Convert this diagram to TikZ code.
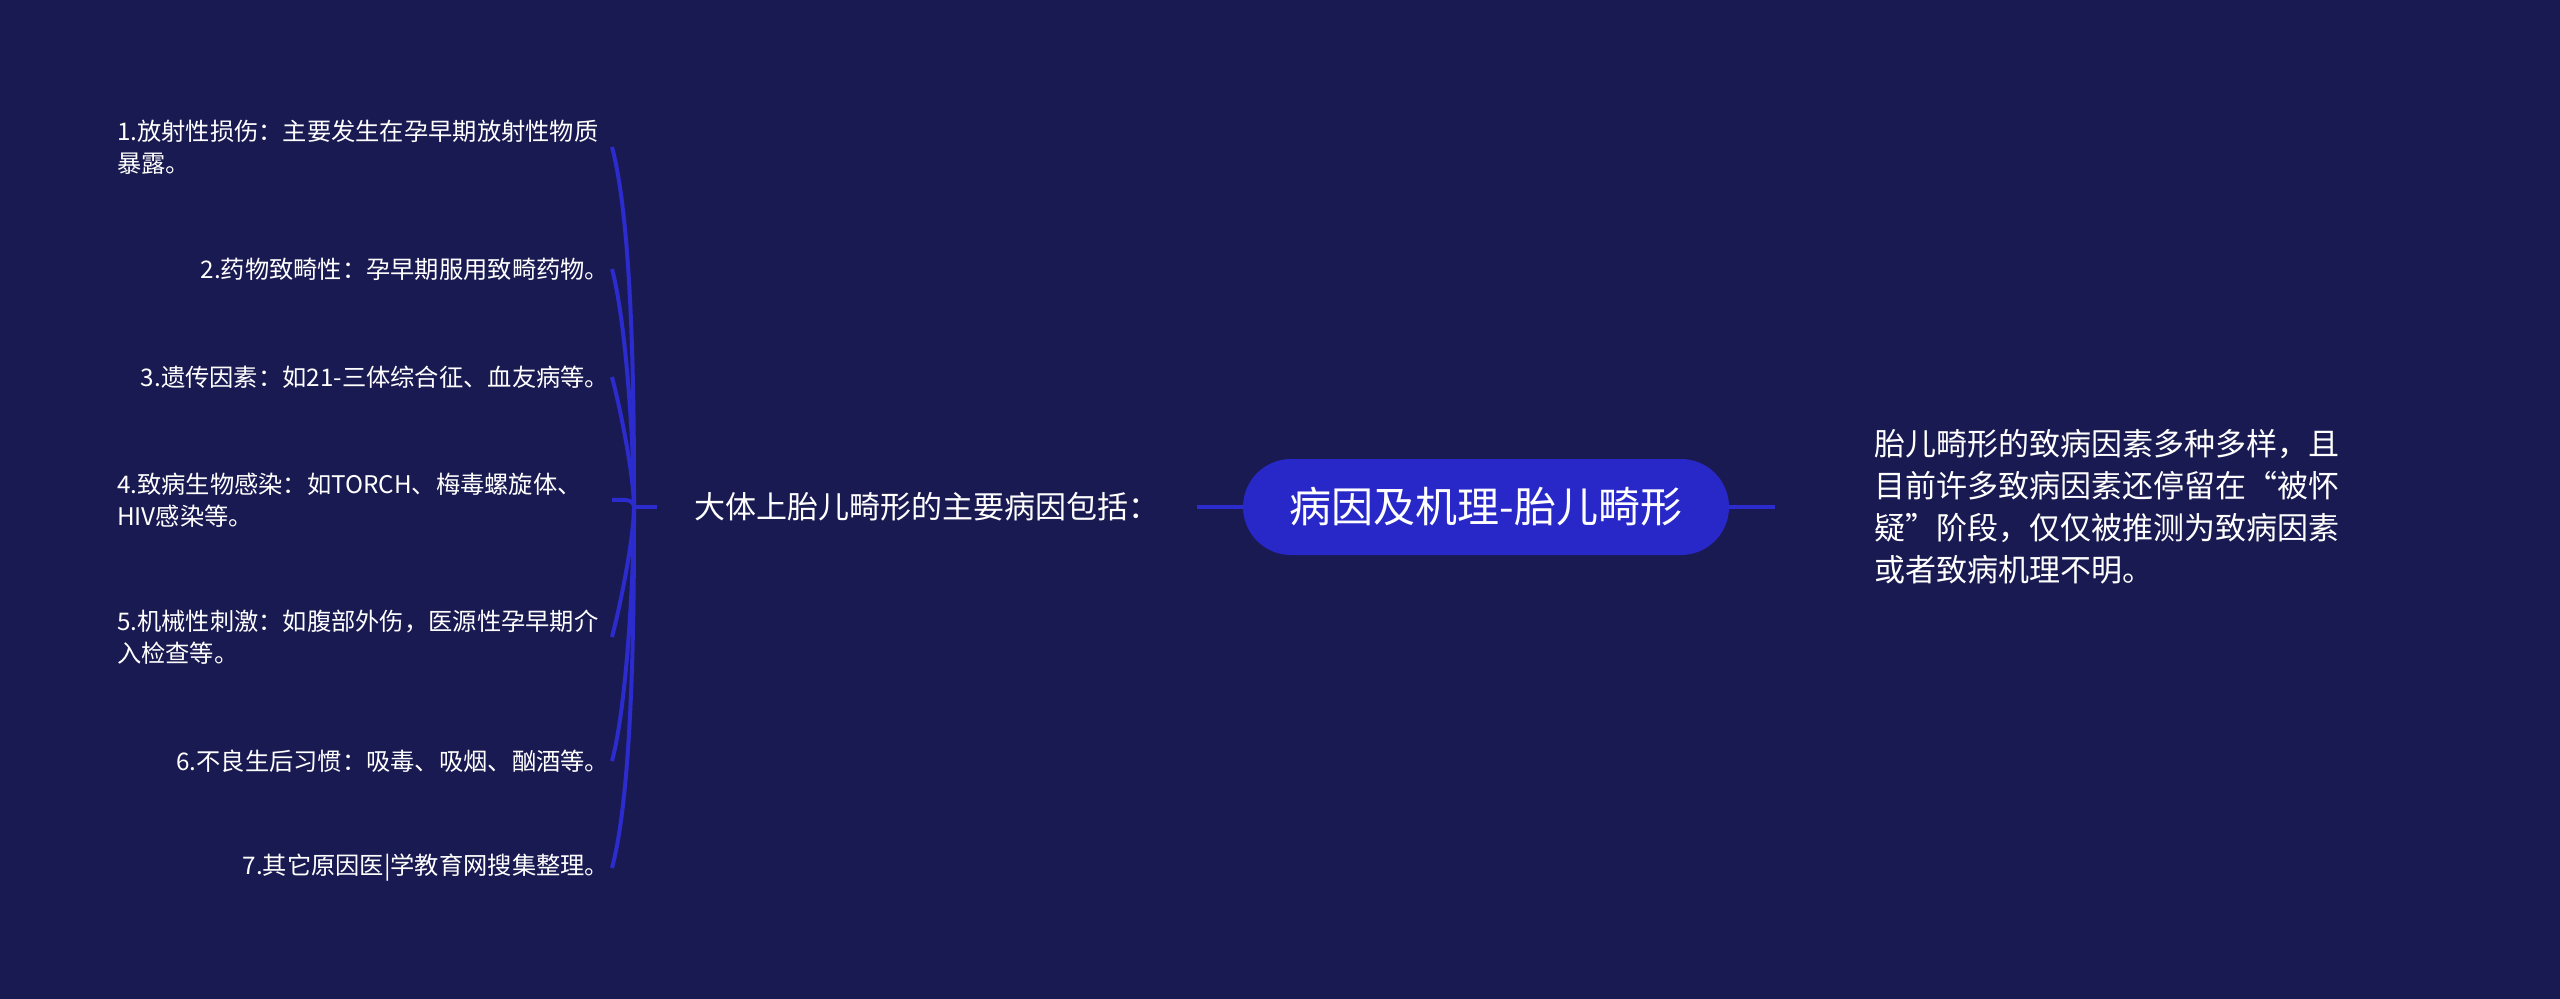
\documentclass[tikz,border=0pt]{standalone}
\usepackage{fontspec}
\setmainfont{Noto Sans CJK SC}
\usetikzlibrary{positioning}

\definecolor{bgnavy}{RGB}{26,26,82}
\definecolor{pillblue}{RGB}{40,40,200}
\definecolor{linkblue}{RGB}{44,44,206}

\begin{document}
\begin{tikzpicture}[x=0.75pt, y=-0.75pt,
    link/.style = {draw=linkblue, line width=3pt},
    root/.style = {fill=pillblue, text=white, rounded corners=36pt, minimum width=364.5pt, minimum height=72pt, font=\fontsize{31.5}{36}\selectfont},
    topic/.style = {text=white, minimum width=405pt, font=\fontsize{23.25}{30}\selectfont},
    note/.style = {text=white, anchor=west, align=left, inner xsep=74.25pt, font=\fontsize{23.25}{31.5}\selectfont},
    item/.style = {text=white, anchor=east, align=left, inner sep=2pt, font=\fontsize{18.2}{24}\selectfont},
    twoline/.style = {text width=369pt}]
    \fill[bgnavy] (0,0) rectangle (2560,999);
    \useasboundingbox (0,0) rectangle (2560,999);

    \node[root] (root) at (1486,507) {病因及机理-胎儿畸形};
    \node[topic] (mid) at (927,507) {大体上胎儿畸形的主要病因包括：};
    \node[note] (note) at (1775,507) {胎儿畸形的致病因素多种多样，且\\目前许多致病因素还停留在“被怀\\疑”阶段，仅仅被推测为致病因素\\或者致病机理不明。};
    \coordinate (jn) at (634,507);

    \node[item, twoline] (i1) at (612,147) {1.放射性损伤：主要发生在孕早期放射性物质\\暴露。};
    \node[item] (i2) at (612,269) {2.药物致畸性：孕早期服用致畸药物。};
    \node[item] (i3) at (612,377) {3.遗传因素：如21-三体综合征、血友病等。};
    \node[item, twoline] (i4) at (612,500) {4.致病生物感染：如TORCH、梅毒螺旋体、\\HIV感染等。};
    \node[item, twoline] (i5) at (612,637) {5.机械性刺激：如腹部外伤，医源性孕早期介\\入检查等。};
    \node[item] (i6) at (612,761) {6.不良生后习惯：吸毒、吸烟、酗酒等。};
    \node[item] (i7) at (612,868) {7.其它原因医|学教育网搜集整理。};

    \draw[link] (root) -- (mid);
    \draw[link] (root) -- (note);
    \draw[link] (jn) -- (mid);
    \draw[link] (jn) to [out=90, in=-75, looseness=0.6] (i1.east);
    \draw[link] (jn) to [out=90, in=-75, looseness=0.6] (i2.east);
    \draw[link] (jn) to [out=90, in=-75, looseness=0.6] (i3.east);
    \draw[link] (jn) to [out=90, in=0, looseness=1] (i4.east);
    \draw[link] (jn) to [out=-90, in=75, looseness=0.6] (i5.east);
    \draw[link] (jn) to [out=-90, in=75, looseness=0.6] (i6.east);
    \draw[link] (jn) to [out=-90, in=75, looseness=0.6] (i7.east);
\end{tikzpicture}
\end{document}
